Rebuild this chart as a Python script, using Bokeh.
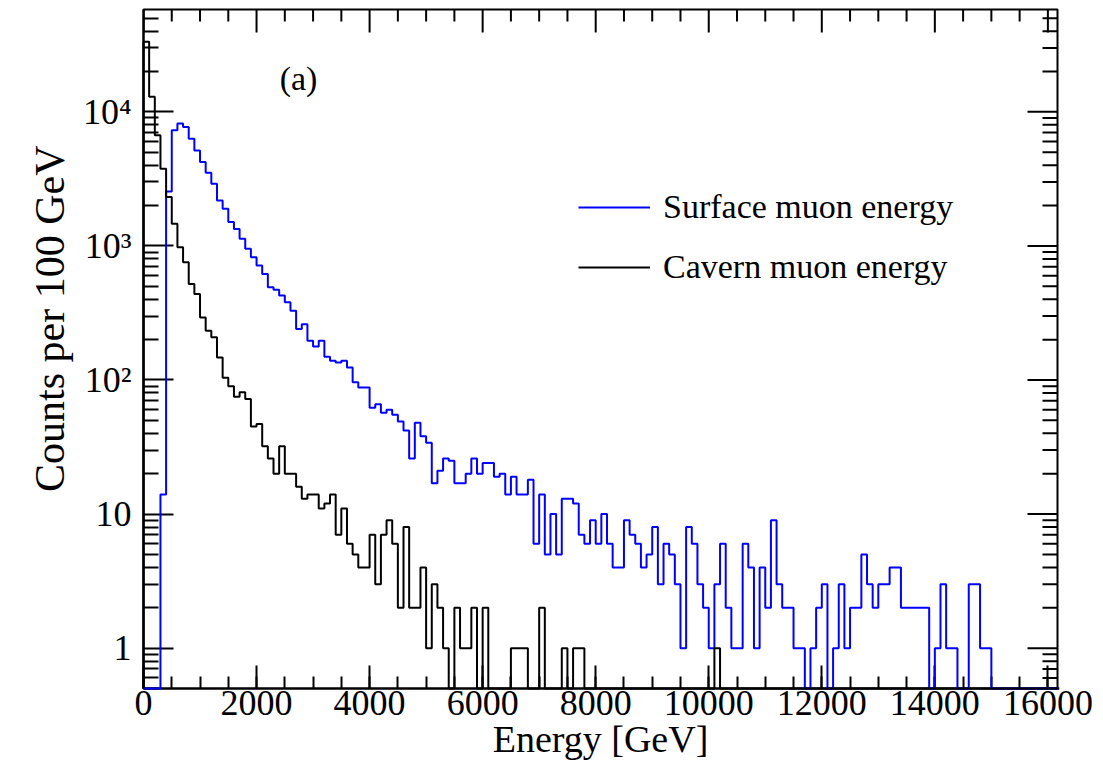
import numpy as np
from bokeh.plotting import figure
from bokeh.models import FixedTicker, Label, Legend, LegendItem, Range1d, Title
from bokeh.embed import file_html
from bokeh.resources import INLINE

# ---------------- data (counts per 100 GeV bin, bins start at 0 GeV) ----------------
bin_width = 100

surface_counts = [
    0, 0, 0, 14, 2550, 7290, 8180, 7720, 6310, 5160,
    4230, 3520, 2910, 2185, 1890, 1505, 1340, 1130, 951, 824,
    713, 618, 492, 472, 426, 380, 329, 240, 261, 196,
    178, 196, 149, 139, 135, 139, 124, 96, 88, 88,
    62, 66, 57, 60, 55, 49, 42, 26, 48, 38,
    34, 17, 21, 26, 25, 17, 17, 20, 26, 20,
    24, 24, 19, 20, 14, 19, 14, 14, 18, 6,
    14, 5, 10, 5, 13, 13, 12, 7, 6, 9,
    6, 10, 6, 4, 4, 9, 7, 6, 4, 5,
    8, 3, 6, 5, 3, 1, 8, 6, 3, 2,
    1, 3, 6, 2, 1, 1, 6, 4, 1, 4,
    2, 9, 3, 2, 2, 1, 1, 0, 1, 2,
    3, 0, 1, 3, 1, 2, 2, 5, 3, 2,
    3, 3, 4, 4, 2, 2, 2, 2, 2, 0,
    1, 3, 1, 1, 0, 0, 3, 3, 1, 1,
    0, 0, 0, 0, 0, 0, 0, 0, 0, 0,
    0, 0,
]

cavern_counts = [
    33400, 12950, 6690, 3770, 2315, 1462, 979, 756, 520, 438,
    293, 233, 208, 147, 104, 90, 75, 81, 72, 45,
    47, 32, 26, 20, 32, 20, 20, 16, 13, 14,
    14, 11, 12, 14, 7, 11, 6, 5, 4, 4,
    7, 3, 7, 9, 6, 2, 8, 2, 2, 4,
    1, 3, 2, 1, 0, 2, 1, 1, 2, 0,
    2, 0, 0, 0, 0, 1, 1, 1, 0, 0,
    2, 0, 0, 0, 1, 0, 1, 1, 0, 0,
    0, 0, 0, 0, 0, 0, 0, 0, 0, 0,
    0, 0, 0, 0, 0, 0, 0, 0, 0, 0,
    0, 1, 0, 0, 0, 0, 0, 0, 0, 0,
    0, 0, 0, 0, 0, 0, 0, 0, 0, 0,
    0, 0, 0, 0, 0, 0, 0, 0, 0, 0,
    0, 0, 0, 0, 0, 0, 0, 0, 0, 0,
    0, 0, 0, 0, 0, 0, 0, 0, 0, 0,
    0, 0, 0, 0, 0, 0, 0, 0, 0, 0,
    0, 0,
]

series_labels = ["Surface muon energy", "Cavern muon energy"]

x_ticks = [0, 2000, 4000, 6000, 8000, 10000, 12000, 14000, 16000]
x_minor_ticks = list(range(0, 16001, 500))
y_ticks = [1, 10, 100, 1000, 10000]
y_tick_labels = ["1", "10", "10²", "10³", "10⁴"]
y_minor_ticks = [m * 10.0 ** k for k in range(-1, 5) for m in range(2, 10)]

x_title = "Energy [GeV]"
y_title = "Counts per 100 GeV"
panel_tag = "(a)"

X_MAX = 16170
Y_MIN, Y_MAX = 0.5, 58000

FONT = "Liberation Serif"


def step_outline(counts, floor):
    c = np.asarray(counts, dtype=float)
    c = np.where(c > 0, c, floor)
    edges = np.arange(len(c) + 1) * bin_width
    xs = np.repeat(edges, 2)[1:-1]
    ys = np.repeat(c, 2)
    xs = np.concatenate([[edges[0]], xs, [edges[-1]]])
    ys = np.concatenate([[floor], ys, [floor]])
    return xs, ys


p = figure(width=1103, height=777, output_backend="svg", toolbar_location=None,
           x_range=Range1d(0, X_MAX), y_range=Range1d(Y_MIN, Y_MAX),
           y_axis_type="log",
           min_border_left=143, min_border_right=46,
           min_border_top=9, min_border_bottom=89,
           background_fill_color="white", border_fill_color="white",
           outline_line_color="black", outline_line_width=2)
p.xgrid.visible = False
p.ygrid.visible = False


def style_axis(ax, major_len, minor_len):
    ax.axis_line_color = "black"
    ax.axis_line_width = 2
    ax.major_tick_in = major_len
    ax.major_tick_out = 0
    ax.minor_tick_in = minor_len
    ax.minor_tick_out = 0
    ax.major_tick_line_color = "black"
    ax.minor_tick_line_color = "black"
    ax.major_tick_line_width = 2
    ax.minor_tick_line_width = 2
    ax.major_label_text_font = FONT
    ax.major_label_text_color = "black"
    ax.major_label_text_font_size = "36px"


x_ticker = FixedTicker(ticks=x_ticks, minor_ticks=x_minor_ticks)
y_ticker = FixedTicker(ticks=y_ticks, minor_ticks=y_minor_ticks)

xb = p.xaxis[0]
xb.ticker = x_ticker
style_axis(xb, 23, 12)
xb.major_label_standoff = 2
xb.axis_label = x_title
xb.axis_label_standoff = 0
xb.axis_label_text_font = FONT
xb.axis_label_text_font_size = "38px"
xb.axis_label_text_font_style = "normal"
xb.axis_label_text_color = "black"

yl = p.yaxis[0]
yl.ticker = y_ticker
style_axis(yl, 30, 15)
yl.major_label_standoff = 12
yl.major_label_overrides = dict(zip(y_ticks, y_tick_labels))

# y-axis title placed in the left side panel, aligned toward the top
p.add_layout(Title(text=y_title, align="right", offset=136, standoff=14,
                   text_font=FONT, text_font_size="42px",
                   text_font_style="normal", text_color="black"), "left")

# mirrored inward ticks on the top and right frame edges (screen-length rays)
x_minor_only = [t for t in x_minor_ticks if t not in x_ticks]
y_minor_in = [t for t in y_minor_ticks if Y_MIN <= t <= Y_MAX]
tick_style = dict(line_color="black", line_width=2, length_units="screen")
p.ray(x=x_ticks, y=Y_MAX, length=23, angle=-np.pi / 2, **tick_style)
p.ray(x=x_minor_only, y=Y_MAX, length=12, angle=-np.pi / 2, **tick_style)
p.ray(x=X_MAX, y=y_ticks, length=30, angle=np.pi, **tick_style)
p.ray(x=X_MAX, y=y_minor_in, length=15, angle=np.pi, **tick_style)

xs_s, ys_s = step_outline(surface_counts, Y_MIN)
xs_c, ys_c = step_outline(cavern_counts, Y_MIN)
r_surf = p.line(xs_s, ys_s, line_color="#0000ff", line_width=2, level="overlay")
r_cav = p.line(xs_c, ys_c, line_color="black", line_width=2, level="overlay")

p.add_layout(Label(x=155, y=610, x_units="screen", y_units="screen",
                   text=panel_tag, text_align="center", text_baseline="middle",
                   text_font=FONT, text_font_size="34px", text_color="black"))

legend = Legend(items=[LegendItem(label=series_labels[0], renderers=[r_surf]),
                       LegendItem(label=series_labels[1], renderers=[r_cav])],
                location=(435, 401), orientation="vertical",
                glyph_width=72, glyph_height=40, label_height=40,
                label_standoff=13, spacing=20, padding=0, margin=0,
                label_text_font=FONT, label_text_font_size="34px",
                label_text_color="black", border_line_alpha=0,
                background_fill_alpha=0)
p.add_layout(legend)

open("out.html", "w").write(file_html(p, INLINE))
